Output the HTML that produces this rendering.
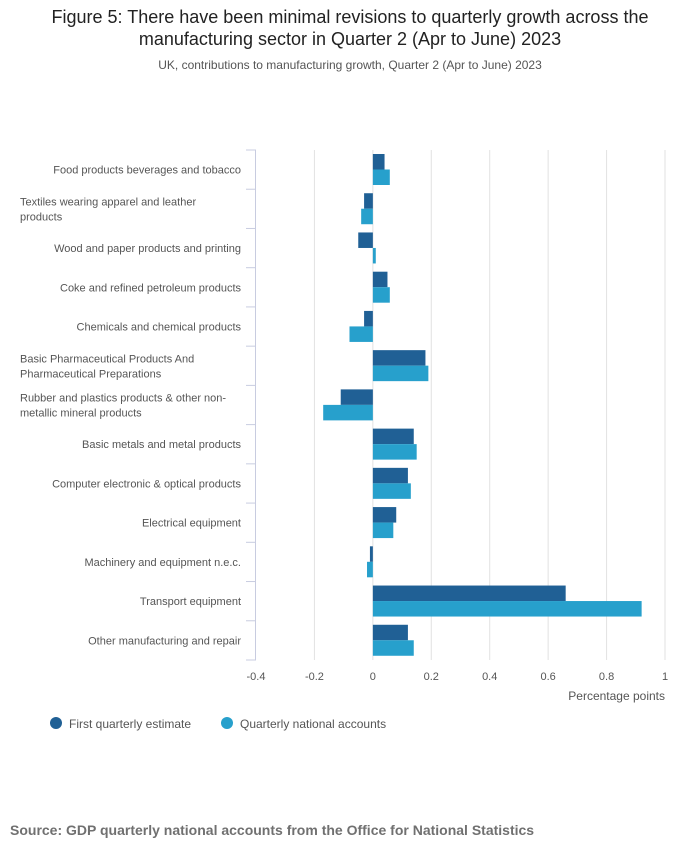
<!DOCTYPE html>
<html><head><meta charset="utf-8"><style>
body{margin:0;background:#fff;font-family:"Liberation Sans",sans-serif;}
</style></head><body>
<svg width="700" height="857" xmlns="http://www.w3.org/2000/svg" id="svg" font-family="Liberation Sans, sans-serif">
<text x="350" y="23" text-anchor="middle" font-size="18" fill="#222">Figure 5: There have been minimal revisions to quarterly growth across the</text>
<text x="350" y="45" text-anchor="middle" font-size="18" fill="#222">manufacturing sector in Quarter 2 (Apr to June) 2023</text>
<text x="350" y="69" text-anchor="middle" font-size="12" fill="#555">UK, contributions to manufacturing growth, Quarter 2 (Apr to June) 2023</text>
<g id="grid"></g><g id="bars"></g><g id="labels"></g>
<text x="665" y="700" text-anchor="end" font-size="12" fill="#555">Percentage points</text>
<circle cx="56" cy="723" r="6" fill="#206095"/>
<text x="69" y="728" font-size="12" fill="#555">First quarterly estimate</text>
<circle cx="227" cy="723" r="6" fill="#27a0cc"/>
<text x="240" y="728" font-size="12" fill="#555">Quarterly national accounts</text>
<text x="10" y="835" font-size="14" font-weight="bold" fill="#707070">Source: GDP quarterly national accounts from the Office for National Statistics</text>
</svg>
<script>
const categories=[["Food products beverages and tobacco"],["Textiles wearing apparel and leather","products"],["Wood and paper products and printing"],["Coke and refined petroleum products"],["Chemicals and chemical products"],["Basic Pharmaceutical Products And","Pharmaceutical Preparations"],["Rubber and plastics products & other non-","metallic mineral products"],["Basic metals and metal products"],["Computer electronic & optical products"],["Electrical equipment"],["Machinery and equipment n.e.c."],["Transport equipment"],["Other manufacturing and repair"]];
const firstEstimate=[0.04,-0.03,-0.05,0.05,-0.03,0.18,-0.11,0.14,0.12,0.08,-0.01,0.66,0.12];
const qnaEstimate=[0.058,-0.04,0.01,0.058,-0.08,0.19,-0.17,0.15,0.13,0.07,-0.02,0.92,0.14];
const ticks=[-0.4,-0.2,0,0.2,0.4,0.6,0.8,1];
const tickLabels=["-0.4","-0.2","0","0.2","0.4","0.6","0.8","1"];
const NS="http://www.w3.org/2000/svg";
const x0=256,x1=665,vmin=-0.4,vmax=1,plotTop=150,plotBottom=660;
const xs=v=>x0+(v-vmin)/(vmax-vmin)*(x1-x0);
const band=(plotBottom-plotTop)/categories.length;
function mk(t,a,p){const e=document.createElementNS(NS,t);for(const k in a)e.setAttribute(k,a[k]);document.getElementById(p).appendChild(e);return e;}
ticks.forEach((t,i)=>{
 if(t!==vmin){const g=mk('line',{x1:xs(t),x2:xs(t),y1:plotTop,y2:plotBottom,stroke:'#e2e2e2','stroke-width':1},'grid');
 
 }
 const l=mk('text',{x:xs(t),y:680,'text-anchor':'middle','font-size':11,fill:'#555'},'labels');
 l.textContent=tickLabels[i];
 
 
});
const ax=mk('line',{x1:x0-0.5,x2:x0-0.5,y1:plotTop,y2:plotBottom,stroke:'#c8cce0','stroke-width':1},'grid');


for(let i=0;i<=categories.length;i++){
 const y=plotTop+band*i;
 const tk=mk('line',{x1:x0-10,x2:x0,y1:y,y2:y,stroke:'#c8cce0','stroke-width':1},'grid');
 
 
}
categories.forEach((c,i)=>{
 const yt=plotTop+band*i, cy=yt+band/2;
 [[firstEstimate[i],'#206095',yt+4],[qnaEstimate[i],'#27a0cc',yt+19.5]].forEach(([v,col,y],j)=>{
  const a=xs(Math.min(0,v)),b=xs(Math.max(0,v));
  const r=mk('rect',{x:a,y:y,width:b-a,height:15.5,fill:col},'bars');
  
  
 });
 const t=mk('text',{'font-size':11,fill:'#555','text-anchor':c.length>1?'start':'end'},'labels');
 
 
 c.forEach((ln,k)=>{const s=document.createElementNS(NS,'tspan');
  s.setAttribute('x',c.length>1?20:241);
  s.setAttribute('y',c.length>1?cy-3.5+k*15:cy+4);
  s.textContent=ln;t.appendChild(s);});
});
</script>
</body></html>
